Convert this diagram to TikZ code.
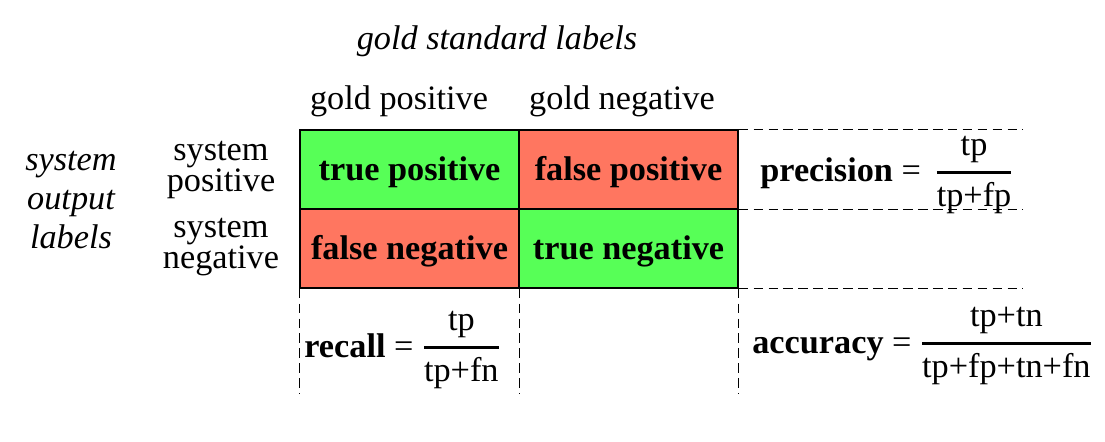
\documentclass[tikz,border=0pt]{standalone}
\usepackage{fontspec}
\usepackage{amsmath}
\setmainfont{Liberation Serif}
\usetikzlibrary{positioning}

\definecolor{cellgreen}{RGB}{87,255,87}
\definecolor{cellred}{RGB}{255,118,96}
\newcommand{\basefont}{\fontsize{19.5pt}{17pt}\selectfont}
\newcommand{\ratio}[2]{$\genfrac{}{}{1.6pt}{0}{\text{#1}}{\text{#2}}$}

\tikzset{
    txt/.style={font=\basefont, inner sep=0pt},
    cell/.style={draw, line width=0.8pt, minimum width=4.38cm, minimum height=1.58cm, inner sep=0pt, text height=14pt, text depth=2pt, font=\basefont\bfseries},
    guide/.style={dash pattern=on 5.5pt off 3pt, line width=0.85pt}
}

\begin{document}
\begin{tikzpicture}[x=0.02cm,y=-0.02cm]
    \useasboundingbox (0,0) rectangle (1105,442);
    \node[cell, fill=cellgreen] (tp) at (409.5,169.5) {true positive};
    \node[cell, fill=cellred] (fp) at (628.5,169.5) {false positive};
    \node[cell, fill=cellred] (fn) at (409.5,248.5) {false negative};
    \node[cell, fill=cellgreen] (tn) at (628.5,248.5) {true negative};
    % headings
    \node[txt, anchor=base] (gold) at (497,50) {\itshape gold standard labels};
    \node[txt, anchor=base] (goldpos) at (399,110) {gold positive};
    \node[txt, anchor=base] (goldneg) at (622,110) {gold negative};
    \node[txt, align=center] (syspos) at (221,170) {system\\positive};
    \node[txt, align=center] (sysneg) at (221,247) {system\\negative};
    \node[txt, align=center, font=\fontsize{19.5pt}{22.2pt}\selectfont\itshape] (sysout) at (71,200) {system\\output\\labels};
    % guides
    \draw[guide] (fp.north east) -- ++(284,0) coordinate (g1);
    \draw[guide] (fp.south east) -- ++(284,0) coordinate (g2);
    \draw[guide] (tn.south east) -- ++(284,0) coordinate (g3);
    \draw[guide] (fn.south west) -- ++(0,105) coordinate (v1);
    \draw[guide] (fn.south east) -- ++(0,105) coordinate (v2);
    \draw[guide] (tn.south east) -- ++(0,105) coordinate (v3);
    % measures
    \node[txt, anchor=base west] (prec) at (760,182) {\textbf{precision} = \hspace{3pt}\ratio{tp}{tp+fp}};
    \node[txt, anchor=base west] (rec) at (304,357) {\textbf{recall} = \ratio{tp}{tp+fn}};
    \node[txt, anchor=base west] (acc) at (752,353) {\textbf{accuracy} = \ratio{tp+tn}{tp+fp+tn+fn}};
\end{tikzpicture}
\end{document}
